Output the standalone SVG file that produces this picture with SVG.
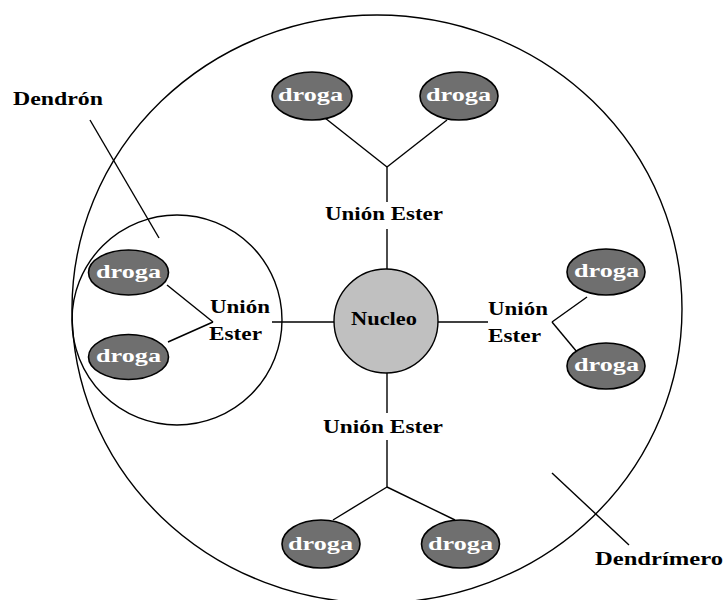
<svg xmlns="http://www.w3.org/2000/svg" width="725" height="600" viewBox="0 0 725 600">
  <style>
    .line { stroke: #000; stroke-width: 1.4; fill: none; }
    .drug { fill: #6f6f6f; stroke: #000; stroke-width: 1.6; }
    .core { fill: #c0c0c0; stroke: #000; stroke-width: 1.4; }
    .t { font-family: "Liberation Serif", "Times New Roman", serif; font-weight: bold; font-size: 18px; fill: #000; }
    .w { fill: #fff; }
  </style>
  <rect width="725" height="600" fill="#fff"/>

  <!-- outer boundary of the dendrimer -->
  <g id="dendrimero-boundary">
    <ellipse class="line" cx="377" cy="309" rx="305" ry="294"/>
  </g>

  <!-- one dendron, circled -->
  <g id="dendron-boundary">
    <circle class="line" cx="177" cy="320" r="105"/>
  </g>

  <g id="connectors">
    <!-- top branch -->
    <line class="line" x1="325" y1="118" x2="387" y2="167"/>
    <line class="line" x1="447" y1="120" x2="387" y2="167"/>
    <line class="line" x1="387" y1="167" x2="387" y2="202"/>
    <line class="line" x1="387" y1="229" x2="387" y2="269"/>
    <!-- left branch -->
    <line class="line" x1="167" y1="285" x2="213" y2="322"/>
    <line class="line" x1="168" y1="342" x2="213" y2="322"/>
    <line class="line" x1="272" y1="322" x2="334" y2="322"/>
    <!-- right branch -->
    <line class="line" x1="438" y1="322" x2="488" y2="322"/>
    <line class="line" x1="587" y1="297" x2="552" y2="322"/>
    <line class="line" x1="552" y1="322" x2="577" y2="352"/>
    <!-- bottom branch -->
    <line class="line" x1="387" y1="373" x2="387" y2="413"/>
    <line class="line" x1="387" y1="440" x2="387" y2="487"/>
    <line class="line" x1="387" y1="487" x2="333" y2="520"/>
    <line class="line" x1="387" y1="487" x2="455" y2="520"/>
    <!-- label pointers -->
    <line class="line" x1="90" y1="120" x2="159" y2="238"/>
    <line class="line" x1="552" y1="473" x2="629" y2="545"/>
  </g>

  <g id="nucleo">
    <circle class="core" cx="386" cy="321" r="52"/>
    <text class="t" x="351" y="325" textLength="66" lengthAdjust="spacingAndGlyphs">Nucleo</text>
  </g>

  <g id="droga-top-left">
    <ellipse class="drug" cx="312" cy="96" rx="40" ry="24"/>
    <text class="t w" x="278" y="101" textLength="65" lengthAdjust="spacingAndGlyphs">droga</text>
  </g>
  <g id="droga-top-right">
    <ellipse class="drug" cx="459" cy="96" rx="39" ry="24"/>
    <text class="t w" x="426" y="101" textLength="65" lengthAdjust="spacingAndGlyphs">droga</text>
  </g>
  <g id="droga-left-upper">
    <ellipse class="drug" cx="128.5" cy="272.5" rx="40" ry="22.5"/>
    <text class="t w" x="96" y="278" textLength="65" lengthAdjust="spacingAndGlyphs">droga</text>
  </g>
  <g id="droga-left-lower">
    <ellipse class="drug" cx="128.5" cy="357" rx="40" ry="22.5"/>
    <text class="t w" x="96" y="362" textLength="65" lengthAdjust="spacingAndGlyphs">droga</text>
  </g>
  <g id="droga-right-upper">
    <ellipse class="drug" cx="606" cy="272" rx="39" ry="23"/>
    <text class="t w" x="574" y="277" textLength="65" lengthAdjust="spacingAndGlyphs">droga</text>
  </g>
  <g id="droga-right-lower">
    <ellipse class="drug" cx="606" cy="366" rx="39" ry="23"/>
    <text class="t w" x="574" y="371" textLength="65" lengthAdjust="spacingAndGlyphs">droga</text>
  </g>
  <g id="droga-bottom-left">
    <ellipse class="drug" cx="321" cy="544" rx="39" ry="24"/>
    <text class="t w" x="288" y="550" textLength="65" lengthAdjust="spacingAndGlyphs">droga</text>
  </g>
  <g id="droga-bottom-right">
    <ellipse class="drug" cx="460.5" cy="544" rx="39" ry="24"/>
    <text class="t w" x="428" y="550" textLength="65" lengthAdjust="spacingAndGlyphs">droga</text>
  </g>

  <g id="union-top">
    <text class="t" x="325" y="220" textLength="118" lengthAdjust="spacingAndGlyphs">Unión Ester</text>
  </g>
  <g id="union-left">
    <text class="t" x="210" y="313" textLength="60" lengthAdjust="spacingAndGlyphs">Unión</text>
    <text class="t" x="209" y="340" textLength="53" lengthAdjust="spacingAndGlyphs">Ester</text>
  </g>
  <g id="union-right">
    <text class="t" x="488" y="315" textLength="60" lengthAdjust="spacingAndGlyphs">Unión</text>
    <text class="t" x="488" y="342" textLength="53" lengthAdjust="spacingAndGlyphs">Ester</text>
  </g>
  <g id="union-bottom">
    <text class="t" x="323" y="433" textLength="120" lengthAdjust="spacingAndGlyphs">Unión Ester</text>
  </g>

  <g id="label-dendron">
    <text class="t" x="13" y="105" textLength="90" lengthAdjust="spacingAndGlyphs">Dendrón</text>
  </g>
  <g id="label-dendrimero">
    <text class="t" x="595" y="565" textLength="128" lengthAdjust="spacingAndGlyphs">Dendrímero</text>
  </g>
</svg>
